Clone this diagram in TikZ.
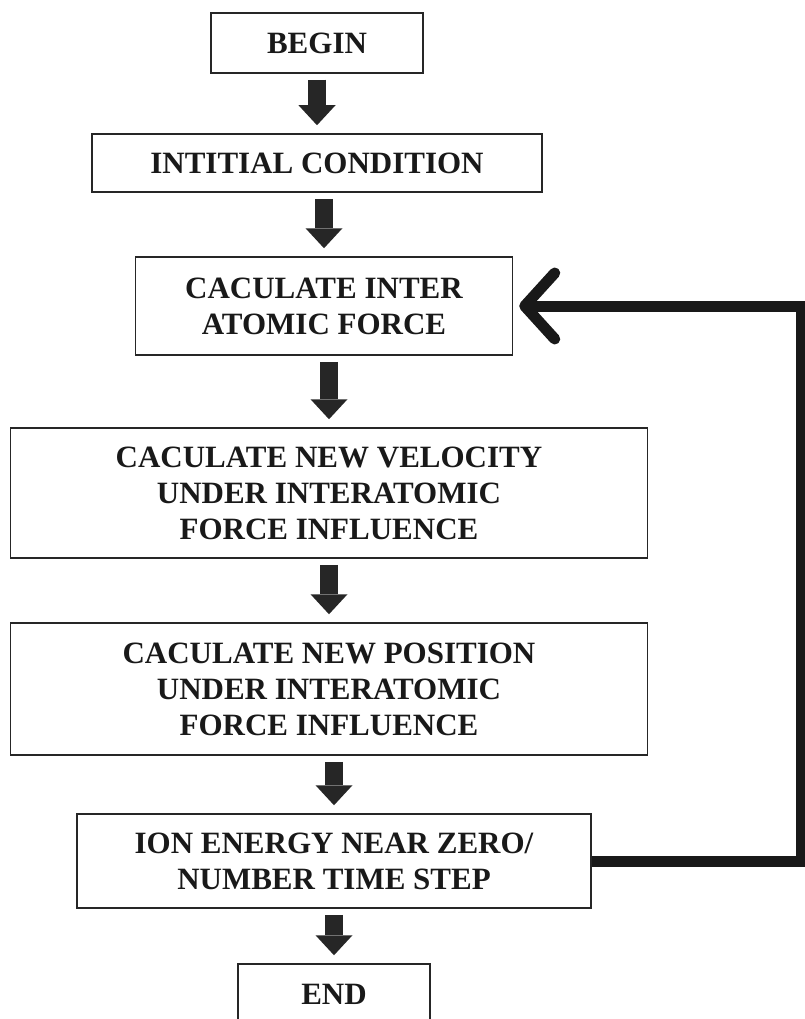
\documentclass[tikz,border=0pt]{standalone}
\usepackage{fontspec}
\setmainfont{Liberation Serif}
\usetikzlibrary{arrows.meta}

\begin{document}
\begin{tikzpicture}[x=1pt, y=-1pt, font=\fontsize{31}{36}\selectfont\bfseries,
block/.style={rectangle, draw=black!85, line width=1.5pt, align=center, inner sep=0pt, text=black!90},
flow/.style={draw=black!85, line width=18pt, shorten <=6pt, shorten >=8pt,
      -{Triangle[width=37pt, length=20pt, line width=0pt]}},
loopback/.style={draw=black!90, line width=11pt, shorten >=6pt,
      -{Straight Barb[length=30pt, width=66pt, line cap=round, line join=round]}},]
 \useasboundingbox (0,0) rectangle (805,1019);
 \node[block, minimum width=212pt, minimum height=60pt] (begin) at (317,43) {BEGIN};
 \node[block, below of=begin, node distance=120pt, minimum width=450pt, minimum height=58pt] (init) {INTITIAL CONDITION};
 \node[block, below of=init, node distance=143pt, xshift=7pt, minimum width=377pt, minimum height=98pt] (force) {CACULATE INTER\\ATOMIC FORCE};
 \node[block, below of=force, node distance=187pt, xshift=5pt, minimum width=637pt, minimum height=130pt] (velocity) {CACULATE NEW VELOCITY\\UNDER INTERATOMIC\\FORCE INFLUENCE};
 \node[block, below of=velocity, node distance=196pt, minimum width=637pt, minimum height=132pt] (position) {CACULATE NEW POSITION\\UNDER INTERATOMIC\\FORCE INFLUENCE};
 \node[block, below of=position, node distance=172pt, xshift=5pt, minimum width=514pt, minimum height=94pt] (check) {ION ENERGY NEAR ZERO/\\NUMBER TIME STEP};
 \node[block, below of=check, node distance=133pt, minimum width=192pt, minimum height=60pt] (end) {END};
 \coordinate (rail) at (801,0);

 \draw[flow] (begin.south -| init.north) -- (init.north);
 \draw[flow] (init.south -| force.north) -- (force.north);
 \draw[flow] (force.south -| velocity.north) -- (velocity.north);
 \draw[flow] (velocity.south -| position.north) -- (position.north);
 \draw[flow] (position.south -| check.north) -- (check.north);
 \draw[flow] (check.south -| end.north) -- (end.north);
 \draw[loopback] (check.east) -| (rail |- force.east) -- (force.east);
\end{tikzpicture}
\end{document}
